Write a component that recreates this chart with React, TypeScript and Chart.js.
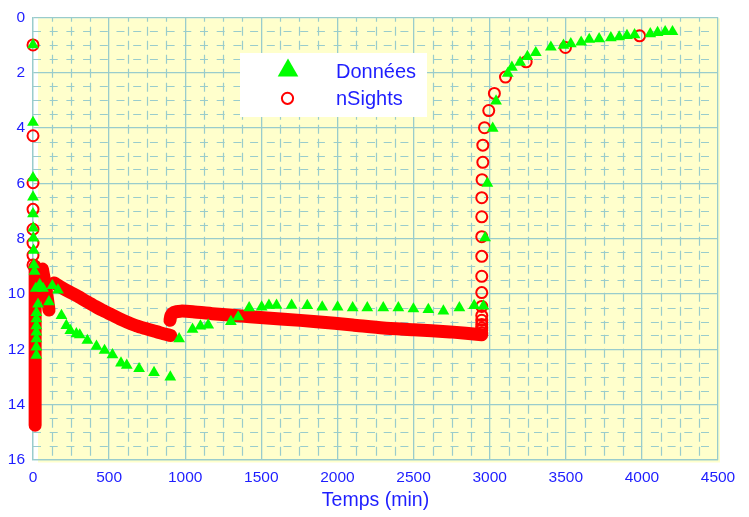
import React, { useEffect, useRef } from "react";
import { Chart, registerables } from "chart.js";

Chart.register(...registerables);

// ---------- data ----------
const X_TICKS = [0, 500, 1000, 1500, 2000, 2500, 3000, 3500, 4000, 4500];
const Y_TICKS = [0, 2, 4, 6, 8, 10, 12, 14, 16];
const SERIES_NAMES = ["Données", "nSights"];
const X_TITLE = "Temps (min)";

// Données (green triangles)
const donneesX = [
  0, 0, 0, 0, 0, 2, 3, 4, 6, 10,
  44, 66, 18, 127, 164, 105, 33, 22, 22, 22, 22, 22, 22, 22,
  187, 219, 245, 285, 307, 357, 417, 470, 522, 578, 616, 697, 795, 902,
  960, 1048, 1100, 1151, 1300, 1348, 1420, 1502, 1550, 1600, 1699, 1802, 1900, 2001,
  2100, 2196, 2301, 2400, 2499, 2597, 2696, 2801, 2898, 2959,
  2970, 2985, 3020, 3042, 3119, 3146, 3200, 3248, 3303, 3402, 3485, 3533, 3601, 3654,
  3719, 3796, 3851, 3902, 3952, 4055, 4103, 4153, 4201,
];
const donneesY = [
  1.0, 3.8, 5.8, 6.5, 7.1, 7.62, 7.98, 8.42, 8.95, 9.18,
  9.66, 9.8, 9.8, 9.7, 9.86, 10.28, 10.37, 10.67, 10.9, 11.15, 11.38, 11.62, 11.92, 12.22,
  10.78, 11.14, 11.32, 11.44, 11.48, 11.68, 11.89, 12.04, 12.2, 12.5, 12.58, 12.7, 12.84, 13.0,
  11.62, 11.28, 11.16, 11.12, 11.0, 10.83, 10.5, 10.47, 10.41, 10.41, 10.41, 10.42, 10.47, 10.47,
  10.5, 10.5, 10.5, 10.5, 10.54, 10.56, 10.62, 10.5, 10.42, 10.44,
  7.97, 6.0, 4.01, 3.03, 2.03, 1.81, 1.63, 1.42, 1.28, 1.08, 1.01, 0.96, 0.9, 0.8,
  0.78, 0.74, 0.71, 0.66, 0.63, 0.6, 0.55, 0.52, 0.52,
];

// nSights (red open circles), the separately visible markers
const nsightsX = [
  0, 0, 0, 0, 0, 0, 0, 0,
  2948, 2948, 2948, 2948, 2948, 2948, 2948, 2948, 2948, 2948, 2948, 2948, 2948,
  2950, 2955, 2955, 2966, 2994, 3031, 3104, 3240, 3498, 3985,
];
const nsightsY = [
  1.0, 4.28, 5.98, 6.94, 7.66, 8.16, 8.6, 8.95,
  11.4, 11.3, 11.23, 11.1, 10.95, 10.78, 10.45, 9.95, 9.36, 8.64, 7.93, 7.21, 6.52,
  5.87, 5.24, 4.62, 3.99, 3.37, 2.75, 2.16, 1.61, 1.09, 0.67,
];

// nSights dense parts (markers overlap into solid bands), traced
const bandAX = [14, 14];
const bandAY = [9.0, 14.74];
const bandBX = [62, 85, 105];
const bandBY = [9.1, 9.8, 10.58];
const bandCX = [140, 180, 241, 300, 351, 400, 460, 520, 570, 620, 680, 740, 790, 840, 905];
const bandCY = [9.6, 9.74, 9.93, 10.1, 10.27, 10.42, 10.6, 10.76, 10.9, 11.02, 11.15, 11.25, 11.33, 11.41, 11.5];
const bandDX = [900, 906, 925, 970, 1050, 1200, 1425, 1650, 1863, 2100, 2301, 2500, 2740, 2948];
const bandDY = [10.95, 10.78, 10.67, 10.62, 10.64, 10.72, 10.82, 10.91, 11.0, 11.12, 11.23, 11.29, 11.37, 11.47];

// ---------- styles ----------
const FONT = "'Liberation Sans', Arial, sans-serif";
const BLUE = "#1E1EFF";
const GRID = "#99CCCC";
const GREEN = "#00FF00";
const RED = "#FF0000";
const BG = "#FFFFCC";

const pts = (xs: number[], ys: number[]) => xs.map((x, i) => ({ x, y: ys[i] }));

const bandStyle = {
  showLine: true,
  clip: false as const,
  borderColor: RED,
  backgroundColor: RED,
  borderWidth: 13,
  borderCapStyle: "round" as const,
  borderJoinStyle: "round" as const,
  pointRadius: 0,
  pointHoverRadius: 0,
  tension: 0.2,
};

const bgGridPlugin = {
  id: "bgGrid",
  beforeDraw(chart: any) {
    const { ctx, chartArea } = chart;
    const { left, right, top, bottom } = chartArea;
    const xs = chart.scales.x;
    const ys = chart.scales.y;
    ctx.save();
    ctx.fillStyle = BG;
    ctx.fillRect(left + 5, top + 1, right - left - 3, bottom - top + 1.5);
    ctx.strokeStyle = GRID;
    ctx.lineWidth = 1.2;
    // minor vertical lines (every 125)
    ctx.setLineDash([9, 5]);
    ctx.lineDashOffset = 4.5;
    for (let v = 125; v < 4500; v += 125) {
      if (v % 500 === 0) continue;
      const px = Math.round(xs.getPixelForValue(v)) + 0.5;
      ctx.beginPath();
      ctx.moveTo(px, top);
      ctx.lineTo(px, bottom);
      ctx.stroke();
    }
    // minor horizontal lines (every 0.5)
    ctx.setLineDash([8, 8.7]);
    ctx.lineDashOffset = 0;
    for (let v = 0.5; v < 16; v += 0.5) {
      if (v % 2 === 0) continue;
      const py = Math.round(ys.getPixelForValue(v)) + 0.5;
      ctx.beginPath();
      ctx.moveTo(left, py);
      ctx.lineTo(right, py);
      ctx.stroke();
    }
    ctx.restore();
  },
};

const legendPlugin = {
  id: "customLegend",
  afterDraw(chart: any) {
    const { ctx } = chart;
    const names = chart.data.datasets.slice(0, 2).map((d: any) => d.label);
    ctx.save();
    ctx.fillStyle = "#FFFFFF";
    ctx.fillRect(240, 53, 187, 64);
    // triangle
    const tx = 288, ty = 70.5, r = 11.9;
    ctx.fillStyle = GREEN;
    ctx.beginPath();
    for (let k = 0; k < 3; k++) {
      const a = (k * 2 * Math.PI) / 3;
      const px = tx + Math.sin(a) * r;
      const py = ty - Math.cos(a) * r;
      if (k === 0) ctx.moveTo(px, py);
      else ctx.lineTo(px, py);
    }
    ctx.closePath();
    ctx.fill();
    // circle
    ctx.strokeStyle = RED;
    ctx.lineWidth = 2;
    ctx.beginPath();
    ctx.arc(287.5, 98.3, 5.6, 0, Math.PI * 2);
    ctx.stroke();
    // texts
    ctx.fillStyle = BLUE;
    ctx.font = `20px ${FONT}`;
    ctx.textAlign = "left";
    ctx.textBaseline = "alphabetic";
    ctx.fillText(names[0], 336, 77.5);
    ctx.fillText(names[1], 336, 105);
    ctx.restore();
  },
};

export default function App() {
  const ref = useRef<HTMLCanvasElement | null>(null);

  useEffect(() => {
    if (!ref.current) return;
    const chart = new Chart(ref.current, {
      type: "scatter",
      data: {
        datasets: [
          {
            label: SERIES_NAMES[0],
            data: pts(donneesX, donneesY),
            clip: false,
            pointStyle: "triangle",
            pointRadius: 6.8,
            pointHoverRadius: 6.8,
            backgroundColor: GREEN,
            borderColor: GREEN,
            borderWidth: 0,
            showLine: false,
          },
          {
            label: SERIES_NAMES[1],
            data: pts(nsightsX, nsightsY),
            clip: false,
            pointStyle: "circle",
            pointRadius: 5.5,
            pointHoverRadius: 5.5,
            backgroundColor: "rgba(0,0,0,0)",
            borderColor: RED,
            borderWidth: 2,
            showLine: false,
          },
          { label: SERIES_NAMES[1], data: pts(bandAX, bandAY), ...bandStyle, tension: 0 },
          { label: SERIES_NAMES[1], data: pts(bandBX, bandBY), ...bandStyle },
          { label: SERIES_NAMES[1], data: pts(bandCX, bandCY), ...bandStyle },
          { label: SERIES_NAMES[1], data: pts(bandDX, bandDY), ...bandStyle },
        ],
      },
      options: {
        animation: false,
        responsive: true,
        maintainAspectRatio: false,
        layout: { padding: { left: 0, top: 12, right: 31, bottom: 0 } },
        plugins: {
          legend: { display: false },
          tooltip: { enabled: false },
        },
        scales: {
          x: {
            type: "linear",
            min: 0,
            max: 4500,
            afterBuildTicks: (s: any) => {
              s.ticks = X_TICKS.map((v) => ({ value: v }));
            },
            afterFit: (s: any) => {
              s.height = 57;
            },
            ticks: {
              color: BLUE,
              font: { family: FONT, size: 15.5 },
              padding: 8,
              autoSkip: false,
              maxRotation: 0,
              callback: (v: any) => String(v),
            },
            grid: { color: GRID, lineWidth: 1.3, drawTicks: false },
            border: { color: GRID, width: 1.3 },
            title: {
              display: true,
              text: X_TITLE,
              color: BLUE,
              font: { family: FONT, size: 19.5 },
              padding: { top: 0, bottom: 5 },
            },
          },
          y: {
            type: "linear",
            reverse: true,
            min: 0,
            max: 16,
            afterBuildTicks: (s: any) => {
              s.ticks = Y_TICKS.map((v) => ({ value: v }));
            },
            afterFit: (s: any) => {
              s.width = 33;
            },
            ticks: {
              color: BLUE,
              font: { family: FONT, size: 15.5 },
              padding: 8,
              autoSkip: false,
              callback: (v: any) => String(v),
            },
            grid: { color: GRID, lineWidth: 1.3, drawTicks: false },
            border: { color: GRID, width: 1.3 },
          },
        },
      },
      plugins: [bgGridPlugin, legendPlugin],
    });
    return () => chart.destroy();
  }, []);

  return (
    <div style={{ position: "absolute", left: 0, top: 0, width: 749, height: 517 }}>
      <canvas ref={ref} />
    </div>
  );
}
